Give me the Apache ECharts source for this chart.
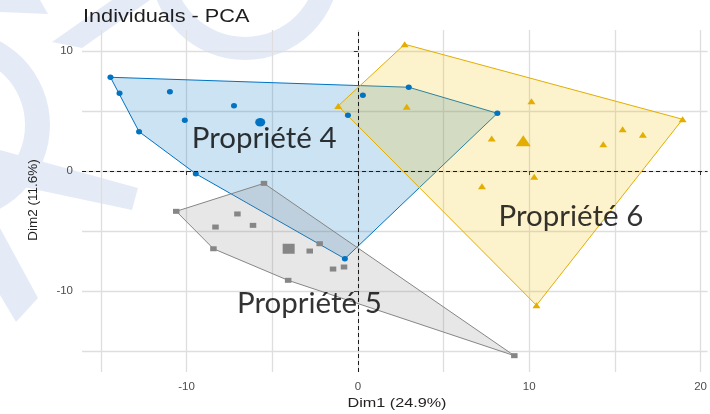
<!DOCTYPE html>
<html>
<head>
<meta charset="utf-8">
<script src="https://cdn.jsdelivr.net/npm/echarts@6/dist/echarts.min.js"></script>
<style>
  html, body { margin: 0; padding: 0; background: #fff; }
  #chart { width: 710px; height: 414px; }
</style>
</head>
<body>
<div id="chart"></div>
<script>
// Individuals on the first two principal components, grouped by property.
const groupNames = ['Propriété 4', 'Propriété 5', 'Propriété 6'];

const prop4Dim1 = [-14.44, -13.91, -12.77, -10.97, -10.10, -7.23, -9.46, 0.29, 2.97, -0.58, 8.14, -0.76];
const prop4Dim2 = [7.81, 6.48, 3.28, 6.61, 4.23, 5.44, -0.23, 6.31, 6.98, 4.64, 4.81, -7.31];

const prop5Dim1 = [-10.60, -5.48, -7.03, -8.31, -6.12, -8.43, -2.81, -2.23, -1.45, -0.81, -4.07, 9.13];
const prop5Dim2 = [-3.36, -1.03, -3.58, -4.67, -4.53, -6.48, -6.67, -6.06, -8.17, -8.00, -9.11, -15.39];

const prop6Dim1 = [2.73, -1.15, 2.85, 7.81, 10.13, 18.95, 15.45, 16.63, 14.32, 10.29, 7.24, 10.42];
const prop6Dim2 = [10.56, 5.42, 5.36, 2.71, 5.81, 4.31, 3.48, 3.03, 2.23, -0.48, -1.27, -11.19];

// group centres (drawn as larger markers)
const centreDim1 = [-5.70, -4.04, 9.65];
const centreDim2 = [4.06, -6.48, 2.53];

const majorTicks = [-10, 0, 10, 20];
const minorTicks = [-15, -5, 5, 15];
const majorTicksY = [-10, 0, 10];
const minorTicksY = [-15, -5, 5];

// ---- styling ----
const colors = ['#0073C2', '#868686', '#E3AE00'];
const fills = ['rgba(0,115,194,0.2)', 'rgba(134,134,134,0.2)', 'rgba(239,192,0,0.2)'];
const symbols = ['circle', 'rect', 'triangle'];
const pointSizes = [[6, 5.5], [6.5, 5], [8, 6]];
const centreSizes = [[10, 8.5], [12, 10], [15, 11]];
const labelAnchors = [[-5.47, 2.75], [-2.83, -11.0], [12.43, -3.83]];

const groupX = [prop4Dim1, prop5Dim1, prop6Dim1];
const groupY = [prop4Dim2, prop5Dim2, prop6Dim2];

function zip(xs, ys) { return xs.map((x, i) => [x, ys[i]]); }

// Convex hull (monotone chain)
function convexHull(points) {
  const p = points.slice().sort((a, b) => a[0] - b[0] || a[1] - b[1]);
  const cross = (o, a, b) => (a[0] - o[0]) * (b[1] - o[1]) - (a[1] - o[1]) * (b[0] - o[0]);
  const lower = [];
  for (const pt of p) {
    while (lower.length >= 2 && cross(lower[lower.length - 2], lower[lower.length - 1], pt) <= 0) lower.pop();
    lower.push(pt);
  }
  const upper = [];
  for (let i = p.length - 1; i >= 0; i--) {
    const pt = p[i];
    while (upper.length >= 2 && cross(upper[upper.length - 2], upper[upper.length - 1], pt) <= 0) upper.pop();
    upper.push(pt);
  }
  upper.pop(); lower.pop();
  return lower.concat(upper);
}

const series = [];

// hull polygons
groupNames.forEach((name, g) => {
  const hull = convexHull(zip(groupX[g], groupY[g]));
  series.push({
    type: 'custom',
    name: name + ' hull',
    xAxisIndex: 0, yAxisIndex: 0,
    z: 1,
    silent: true,
    data: [hull[0]],
    renderItem: function (params, api) {
      return {
        type: 'polygon',
        shape: { points: hull.map(pt => api.coord(pt)) },
        style: { fill: fills[g], stroke: colors[g], lineWidth: 1 }
      };
    }
  });
});

// reference lines at 0
series.push({
  type: 'scatter',
  name: 'zero lines',
  data: [],
  z: 4,
  markLine: {
    silent: true,
    symbol: 'none',
    label: { show: false },
    lineStyle: { color: '#1a1a1a', type: [4, 3], width: 1 },
    data: [{ xAxis: 0 }, { yAxis: 0 }]
  }
});

// individuals
groupNames.forEach((name, g) => {
  series.push({
    type: 'scatter',
    name: name,
    z: 3,
    symbol: symbols[g],
    symbolSize: pointSizes[g],
    itemStyle: { color: colors[g], opacity: 1 },
    data: zip(groupX[g], groupY[g])
  });
  series.push({
    type: 'scatter',
    name: name + ' centre',
    z: 3,
    symbol: symbols[g],
    symbolSize: centreSizes[g],
    itemStyle: { color: colors[g], opacity: 1 },
    data: [[centreDim1[g], centreDim2[g]]]
  });
});

// group names
series.push({
  type: 'scatter',
  name: 'group labels',
  z: 6,
  symbolSize: 0,
  silent: true,
  label: {
    show: true,
    position: 'inside',
    formatter: '{b}',
    fontFamily: 'Lato, "Open Sans", sans-serif',
    fontSize: 29.5,
    color: '#000'
  },
  data: groupNames.map((n, g) => ({ name: n, value: labelAnchors[g] }))
});

const gridColor = '#dedede';
const tickLabel = { color: '#4d4d4d', fontSize: 11.5, fontFamily: '"Liberation Sans", Arial, sans-serif' };

const option = {
  backgroundColor: '#ffffff',
  animation: false,
  grid: { left: 82, right: 0, top: 30, bottom: 42 },
  xAxis: [
    {
      type: 'value', min: -16.1, max: 20.41, position: 'bottom',
      axisLine: { show: false },
      axisTick: { show: true, customValues: majorTicks, length: 4, lineStyle: { color: '#333', width: 1 } },
      axisLabel: Object.assign({ customValues: majorTicks, margin: 9 }, tickLabel),
      splitLine: { show: true, lineStyle: { color: gridColor, width: 1.3 } }
    },
    {
      type: 'value', min: -16.1, max: 20.41, position: 'bottom',
      axisLine: { show: false },
      axisTick: { show: false, customValues: minorTicks },
      axisLabel: { show: false },
      splitLine: { show: true, lineStyle: { color: gridColor, width: 1.3 } }
    }
  ],
  yAxis: [
    {
      type: 'value', min: -16.75, max: 11.75, position: 'left',
      axisLine: { show: false },
      axisTick: { show: true, customValues: majorTicksY, length: 4, lineStyle: { color: '#333', width: 1 } },
      axisLabel: Object.assign({ customValues: majorTicksY, margin: 9 }, tickLabel),
      splitLine: { show: true, lineStyle: { color: gridColor, width: 1.3 } }
    },
    {
      type: 'value', min: -16.75, max: 11.75, position: 'left',
      axisLine: { show: false },
      axisTick: { show: false, customValues: minorTicksY },
      axisLabel: { show: false },
      splitLine: { show: true, lineStyle: { color: gridColor, width: 1.3 } }
    }
  ],
  graphic: {
    elements: [
      // light background emblem
      { type: 'polygon', z: -10, silent: true, shape: { points: [[52, 42], [82, 48], [150, 0], [112, 0]] }, style: { fill: '#e5ebf6' } },
      { type: 'polygon', z: -10, silent: true, shape: { points: [[0, 0], [40, 0], [48, 14], [0, 12]] }, style: { fill: '#e5ebf6' } },
      { type: 'ring', z: -10, silent: true, shape: { cx: 245, cy: -35, r: 95, r0: 72 }, style: { fill: '#e5ebf6' } },
      { type: 'ring', z: -10, silent: true, shape: { cx: -45, cy: 125, r: 95, r0: 70 }, style: { fill: '#e5ebf6' } },
      { type: 'polygon', z: -10, silent: true, shape: { points: [[0, 150], [138, 188], [132, 210], [0, 182]] }, style: { fill: '#e5ebf6' } },
      { type: 'polygon', z: -10, silent: true, shape: { points: [[0, 228], [38, 298], [16, 322], [0, 295]] }, style: { fill: '#e5ebf6' } },
      // titles
      {
        type: 'text', x: 83, y: 17, scaleX: 1.24, z: 10,
        style: { text: 'Individuals - PCA', font: '17.5px "Liberation Sans", Arial, sans-serif', fill: '#1e1e1e', textVerticalAlign: 'middle' }
      },
      {
        type: 'text', x: 397, y: 403, scaleX: 1.2, z: 10,
        style: { text: 'Dim1 (24.9%)', font: '13.5px "Liberation Sans", Arial, sans-serif', fill: '#222', textAlign: 'center', textVerticalAlign: 'middle' }
      },
      {
        type: 'text', x: 33, y: 200, rotation: Math.PI / 2, z: 10,
        style: { text: 'Dim2 (11.6%)', font: '13.5px "Liberation Sans", Arial, sans-serif', fill: '#222', textAlign: 'center', textVerticalAlign: 'middle' }
      }
    ]
  },
  series: series
};

const chart = echarts.init(document.getElementById('chart'), null, { renderer: 'canvas' });
chart.setOption(option);
</script>
</body>
</html>
